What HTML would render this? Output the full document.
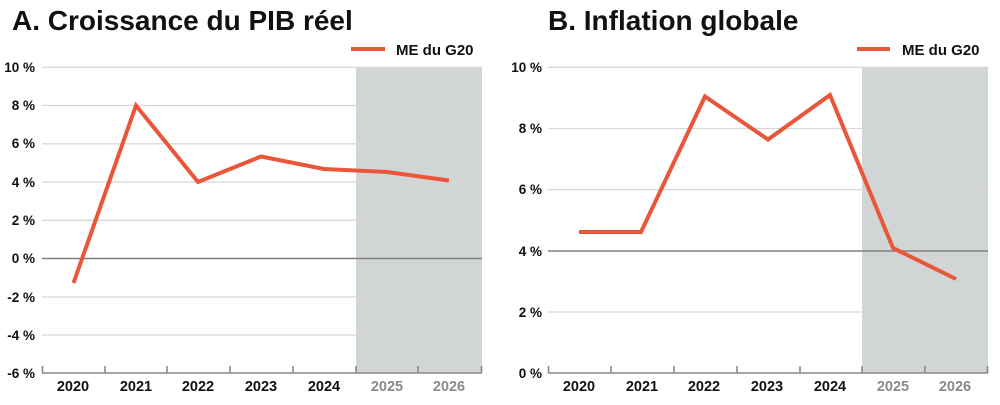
<!DOCTYPE html>
<html><head><meta charset="utf-8"><style>
body{margin:0;background:#fff;width:1000px;height:400px;overflow:hidden}
svg text{font-family:"Liberation Sans",sans-serif;font-weight:bold}
</style></head><body>
<svg width="1000" height="400" viewBox="0 0 1000 400">
<text x="12" y="30" font-size="28" fill="#111">A. Croissance du PIB réel</text>
<text x="548" y="30" font-size="28" fill="#111">B. Inflation globale</text>
<!-- Chart A -->
<rect x="356" y="67" width="126" height="306" fill="#d2d5d6"/>
<g stroke="#d8d8d8" stroke-width="1.3">
<line x1="42" x2="482" y1="67.3" y2="67.3"/><line x1="42" x2="482" y1="105.5" y2="105.5"/>
<line x1="42" x2="482" y1="143.8" y2="143.8"/><line x1="42" x2="482" y1="182" y2="182"/>
<line x1="42" x2="482" y1="220.3" y2="220.3"/><line x1="42" x2="482" y1="297" y2="297"/>
<line x1="42" x2="482" y1="335" y2="335"/></g>
<line x1="42" x2="482" y1="258.5" y2="258.5" stroke="#808080" stroke-width="1.6"/>
<g stroke="#888" stroke-width="1.6"><line x1="42" x2="482" y1="373" y2="373"/>
<line x1="42.5" x2="42.5" y1="366" y2="373"/><line x1="105" x2="105" y1="366" y2="373"/><line x1="167" x2="167" y1="366" y2="373"/><line x1="230" x2="230" y1="366" y2="373"/><line x1="293" x2="293" y1="366" y2="373"/><line x1="356" x2="356" y1="366" y2="373"/><line x1="418" x2="418" y1="366" y2="373"/><line x1="481.5" x2="481.5" y1="366" y2="373"/></g>
<g font-size="13.5" fill="#111" text-anchor="end">
<text x="35" y="72">10 %</text><text x="35" y="110">8 %</text><text x="35" y="148">6 %</text><text x="35" y="187">4 %</text><text x="35" y="225">2 %</text><text x="35" y="263">0 %</text><text x="35" y="302">-2 %</text><text x="35" y="340">-4 %</text><text x="35" y="378">-6 %</text></g>
<g font-size="14.5" text-anchor="middle" fill="#111">
<text x="73" y="391">2020</text><text x="136" y="391">2021</text><text x="198" y="391">2022</text><text x="261" y="391">2023</text><text x="324" y="391">2024</text><text x="387" y="391" fill="#8a8a8a">2025</text><text x="449" y="391" fill="#8a8a8a">2026</text></g>
<polyline fill="none" stroke="#e9563a" stroke-width="4" points="73.5,283 136,105.5 198,182 261,156.5 324,169 387,172 449,180.5"/>
<line x1="351" x2="385" y1="49" y2="49" stroke="#e9563a" stroke-width="4"/>
<text x="396" y="55" font-size="15" fill="#111">ME du G20</text>
<!-- Chart B -->
<rect x="862" y="67" width="126" height="306" fill="#d2d5d6"/>
<g stroke="#d8d8d8" stroke-width="1.3">
<line x1="548" x2="988" y1="67.3" y2="67.3"/><line x1="548" x2="988" y1="128.5" y2="128.5"/>
<line x1="548" x2="988" y1="189.7" y2="189.7"/><line x1="548" x2="988" y1="312" y2="312"/></g>
<line x1="548" x2="988" y1="251" y2="251" stroke="#808080" stroke-width="1.6"/>
<g stroke="#888" stroke-width="1.6"><line x1="548" x2="988" y1="373" y2="373"/>
<line x1="548.5" x2="548.5" y1="366" y2="373"/><line x1="611" x2="611" y1="366" y2="373"/><line x1="674" x2="674" y1="366" y2="373"/><line x1="737" x2="737" y1="366" y2="373"/><line x1="800" x2="800" y1="366" y2="373"/><line x1="862" x2="862" y1="366" y2="373"/><line x1="925" x2="925" y1="366" y2="373"/><line x1="987.5" x2="987.5" y1="366" y2="373"/></g>
<g font-size="13.5" fill="#111" text-anchor="end">
<text x="542" y="72">10 %</text><text x="542" y="133">8 %</text><text x="542" y="194">6 %</text><text x="542" y="256">4 %</text><text x="542" y="317">2 %</text><text x="542" y="378">0 %</text></g>
<g font-size="14.5" text-anchor="middle" fill="#111">
<text x="579" y="391">2020</text><text x="642" y="391">2021</text><text x="704" y="391">2022</text><text x="767" y="391">2023</text><text x="830" y="391">2024</text><text x="893" y="391" fill="#8a8a8a">2025</text><text x="955" y="391" fill="#8a8a8a">2026</text></g>
<polyline fill="none" stroke="#e9563a" stroke-width="4" points="579,232 641,232 705,96.5 768,139.5 830,95 893,248 956,279"/>
<line x1="857" x2="890" y1="49" y2="49" stroke="#e9563a" stroke-width="4"/>
<text x="902" y="55" font-size="15" fill="#111">ME du G20</text>
</svg>
</body></html>
